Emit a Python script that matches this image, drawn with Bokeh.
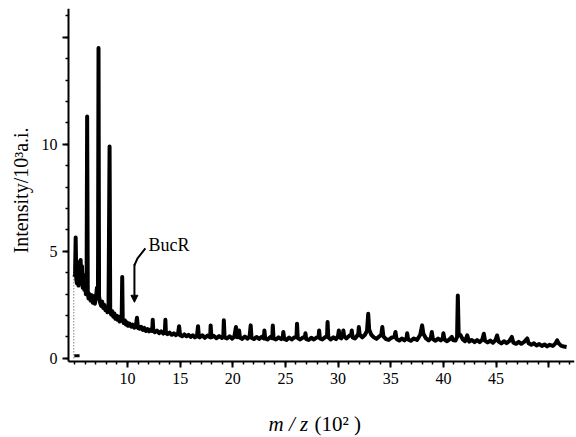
import math
from bokeh.plotting import figure
from bokeh.models import Range1d, FixedTicker, Label, Arrow, NormalHead
from bokeh.embed import file_html
from bokeh.resources import INLINE

# ---- data (m/z in 10^2, intensity in 10^3 a.i.) ----
mz = [4.95, 5.02, 5.08, 5.14, 5.2, 5.28, 5.35, 5.42, 5.48, 5.55, 5.62, 5.68, 5.75, 5.82, 5.9, 5.98,
      6.05, 6.12, 6.17, 6.23, 6.3, 6.4, 6.5, 6.6, 6.7, 6.8, 6.9, 7.0, 7.1, 7.2, 7.25, 7.3, 7.4, 7.5,
      7.6, 7.7, 7.8, 7.9, 8.0, 8.1, 8.2, 8.3, 8.36, 8.45, 8.55, 8.65, 8.75, 8.85, 8.95, 9.05, 9.15,
      9.25, 9.35, 9.45, 9.5, 9.55, 9.65, 9.75, 9.85, 9.95, 10.05, 10.2, 10.35, 10.5, 10.65, 10.8,
      10.9, 11.0, 11.15, 11.3, 11.45, 11.6, 11.75, 11.9, 12.05, 12.2, 12.35, 12.4, 12.45, 12.6, 12.8,
      13.0, 13.2, 13.4, 13.55, 13.6, 13.65, 13.8, 14.0, 14.2, 14.4, 14.6, 14.8, 14.9, 15.0, 15.2,
      15.4, 15.6, 15.8, 16.0, 16.2, 16.4, 16.6, 16.7, 16.78,
      16.85, 17.1, 17.35, 17.6, 17.85, 17.9, 17.97, 18.2, 18.45, 18.7, 18.95, 19.1, 19.15, 19.22,
      19.45, 19.7, 19.95, 20.15, 20.3, 20.4, 20.55, 20.6, 20.68, 20.9, 21.15, 21.4, 21.6, 21.7,
      21.78, 22.0, 22.25, 22.5, 22.75, 22.95, 23.0, 23.08, 23.3, 23.55, 23.75, 23.8, 23.87, 24.1,
      24.35, 24.6, 24.75, 24.8, 24.88, 25.1, 25.35, 25.6, 25.85, 26.05, 26.1, 26.17, 26.4, 26.65,
      26.85, 26.9, 26.97, 27.2, 27.45, 27.7, 27.95, 28.15, 28.2, 28.27, 28.5, 28.75, 28.95, 29.0,
      29.07, 29.3, 29.55, 29.8, 30.0, 30.07, 30.15, 30.3, 30.45, 30.5, 30.58, 30.8, 31.05, 31.25,
      31.3, 31.38, 31.6, 31.8, 31.92, 31.97, 32.05, 32.3, 32.55, 32.75, 32.86, 32.95, 33.15, 33.4,
      33.65, 33.9, 34.1, 34.2, 34.3, 34.55, 34.8, 35.05, 35.35, 35.45, 35.55, 35.8, 36.05, 36.3,
      36.5, 36.56, 36.65, 36.9, 37.2, 37.5, 37.8, 37.98, 38.1, 38.35, 38.6, 38.8, 38.9, 39.0, 39.25,
      39.5, 39.75, 39.95, 40.0, 40.1, 40.35, 40.6, 40.8, 40.9, 41.15, 41.3, 41.37, 41.45, 41.6,
      41.85, 42.05, 42.26, 42.45, 42.7, 42.95, 43.2, 43.45, 43.7, 43.84, 43.95, 44.2, 44.45, 44.7,
      44.95, 45.1, 45.25, 45.5, 45.75, 46.0, 46.25, 46.5, 46.65, 46.9, 47.15, 47.4, 47.7, 47.96,
      48.1, 48.35, 48.6, 48.85, 49.1, 49.35, 49.6, 49.85, 50.1, 50.4, 50.65, 50.8, 50.95, 51.2,
      51.45, 51.7]
intensity = [3.8, 3.9, 5.65, 3.7, 3.5, 4.1, 3.4, 4.5, 3.8, 4.6, 3.5, 4.3, 3.3, 3.9, 3.2, 3.5,
             3.0, 3.5, 11.3, 3.1, 2.8, 3.0, 2.7, 2.95, 2.6, 2.9, 2.55, 2.8, 3.3, 3.1, 14.5, 2.9, 2.6, 2.45,
             2.65, 2.35, 2.5, 2.25, 2.4, 2.15, 2.4, 9.9, 2.25, 2.05, 2.2, 1.95, 2.1, 1.85, 2.0, 1.8, 1.95,
             1.72, 1.88, 1.9, 3.8, 1.75, 1.65, 1.78, 1.58, 1.68, 1.52, 1.62, 1.48, 1.57, 1.43, 1.52,
             1.9, 1.42, 1.38, 1.47, 1.33, 1.42, 1.28, 1.37, 1.26, 1.35, 1.28, 1.8, 1.28, 1.22, 1.3,
             1.18, 1.26, 1.16, 1.23, 1.8, 1.18, 1.13, 1.2, 1.1, 1.17, 1.08, 1.15, 1.5, 1.08, 1.03,
             1.12, 1.03, 1.1, 1.0, 1.08, 0.98, 1.05, 1.5, 1.0,
             0.98, 1.08, 0.96, 1.06, 0.98, 1.54, 0.98, 1.05, 0.94, 1.04, 0.95, 1.05, 1.78, 0.98,
             0.93, 1.03, 0.92, 1.02, 1.46, 0.98, 1.05, 1.3, 0.96, 0.91, 1.02, 0.92, 1.03, 1.54,
             0.96, 0.9, 1.0, 0.91, 1.01, 0.93, 1.3, 0.93, 0.88, 0.99, 0.94, 1.54, 0.93, 0.88,
             0.98, 0.9, 1.0, 1.23, 0.91, 0.86, 0.97, 0.88, 0.98, 1.0, 1.62, 0.95, 0.88, 0.97,
             0.98, 1.17, 0.9, 0.86, 0.96, 0.88, 0.97, 1.0, 1.3, 0.93, 0.88, 0.98, 1.05, 1.7,
             0.98, 0.88, 0.98, 0.9, 1.05, 1.3, 0.98, 0.93, 1.1, 1.3, 1.03, 0.93, 1.05, 1.1,
             1.3, 0.98, 0.93, 1.05, 1.15, 1.46, 1.1, 0.98, 1.1, 1.3, 2.08, 1.35, 1.1, 0.98,
             0.91, 1.02, 1.1, 1.46, 1.03, 0.9, 0.86, 0.96, 1.0, 1.23, 0.9, 0.83, 0.93, 0.84,
             0.95, 1.17, 0.88, 0.82, 0.93, 0.86, 1.1, 1.54, 1.15, 0.93, 0.84, 0.95, 1.23, 0.9, 0.82,
             0.92, 0.84, 0.95, 1.17, 0.88, 0.8, 0.9, 1.0, 0.86, 0.83, 1.0, 2.94, 1.15, 1.1,
             0.88, 0.8, 1.07, 0.78, 0.86, 0.76, 0.85, 0.76, 0.88, 1.15, 0.83, 0.74, 0.83, 0.73,
             0.85, 1.07, 0.78, 0.7, 0.8, 0.71, 0.8, 1.0, 0.73, 0.68, 0.77, 0.68, 0.78, 0.93,
             0.7, 0.63, 0.7, 0.6, 0.67, 0.58, 0.65, 0.56, 0.63, 0.58, 0.7, 0.84, 0.7, 0.58,
             0.55, 0.53]

x_major = [10, 15, 20, 25, 30, 35, 40, 45, 50]
x_minor = list(range(5, 53))
y_major = [0, 5, 10, 15]
y_minor = list(range(0, 17))

SERIF = "Liberation Serif"
X0, X1 = 4.4, 52.45     # extent of the x axis
Y0, Y1 = -0.15, 16.35   # extent of the y axis

# the frame fills the canvas; both axes sit at fixed locations inside it
p = figure(width=576, height=437, output_backend="svg", toolbar_location=None,
           x_range=Range1d(-2.058, X1), y_range=Range1d(-3.70, Y1),
           min_border_left=0, min_border_right=2, min_border_top=8, min_border_bottom=0)
p.outline_line_color = None
p.xgrid.visible = False
p.ygrid.visible = False
p.background_fill_color = "white"
p.border_fill_color = "white"

# spectrum
p.line(mz, intensity, line_color="black", line_width=4, line_join="round")

# faint dotted guide at the start of the spectrum and small bottom mark
p.segment(x0=[4.9], y0=[0.0], x1=[4.9], y1=[4.1], line_color="#444444",
          line_width=1, line_dash="1 2")
p.line([4.95, 5.45], [0.12, 0.12], line_color="black", line_width=3)

# axes styling
for ax in (p.xaxis[0], p.yaxis[0]):
    ax.axis_line_width = 2
    ax.axis_line_color = "black"
    ax.major_tick_line_width = 2
    ax.minor_tick_line_width = 1.5
    ax.major_tick_in = 0
    ax.major_tick_out = 6
    ax.minor_tick_in = 0
    ax.minor_tick_out = 3
    ax.major_label_text_font = SERIF
    ax.major_label_text_font_size = "16px"
    ax.major_label_text_color = "black"

p.xaxis.fixed_location = Y0
p.xaxis.bounds = (X0, X1)
p.xaxis.ticker = FixedTicker(ticks=x_major, minor_ticks=x_minor)
p.xaxis.major_label_overrides = {50: ""}
p.xaxis.major_label_standoff = 5

p.yaxis.fixed_location = X0
p.yaxis.bounds = (Y0, Y1)
p.yaxis.ticker = FixedTicker(ticks=y_major, minor_ticks=y_minor)
p.yaxis.major_label_overrides = {15: ""}
p.yaxis.major_label_standoff = 5

# y axis title (rotated)
p.add_layout(Label(x=-0.1, y=7.85, text="Intensity/10³a.i.", angle=math.pi / 2,
                   text_font=SERIF, text_font_size="20px", text_align="center",
                   text_baseline="middle", text_color="black"))

# x axis title: italic "m / z" followed by upright "(10²)"
p.add_layout(Label(x=23.39, y=-3.05, text="m / z", text_font=SERIF, text_font_style="italic",
                   text_font_size="21px", text_baseline="alphabetic", text_color="black"))
p.add_layout(Label(x=27.76, y=-3.05, text="(10² )", text_font=SERIF, text_font_style="normal",
                   text_font_size="21px", text_baseline="alphabetic", text_color="black"))

# BucR annotation
p.add_layout(Label(x=12.0, y=5.28, text="BucR", text_font=SERIF, text_font_size="18px",
                   text_baseline="middle", text_color="black"))
p.line([11.7, 10.95, 10.66], [5.14, 4.67, 4.35], line_color="black", line_width=2)
p.add_layout(Arrow(x_start=10.66, y_start=4.4, x_end=10.66, y_end=2.62,
                   line_color="black", line_width=2,
                   end=NormalHead(size=7, fill_color="black", line_color="black")))

open("out.html", "w").write(file_html(p, INLINE))
